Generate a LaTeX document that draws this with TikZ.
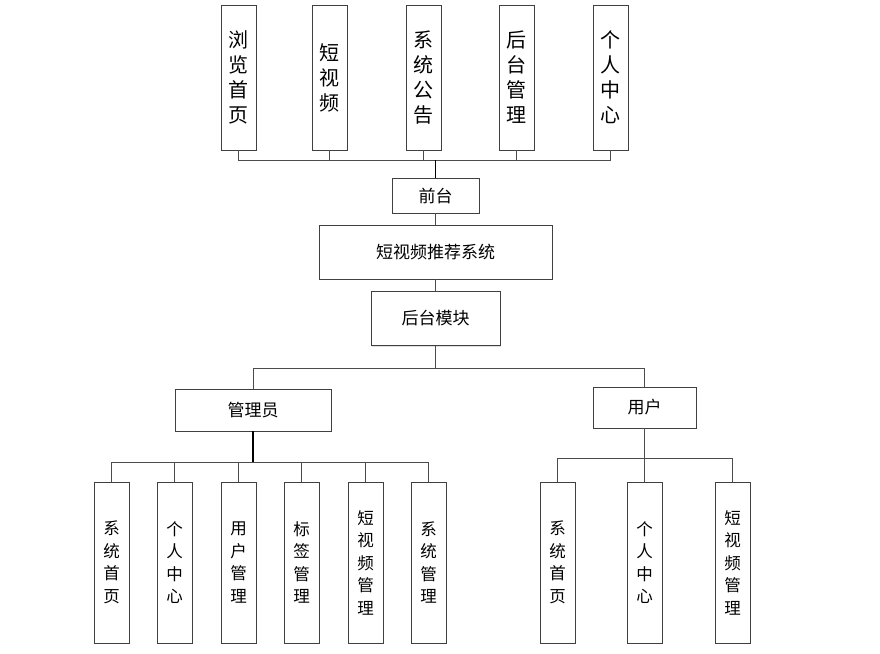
\documentclass[tikz,border=0pt]{standalone}
\usepackage{fontspec}
\setmainfont{Noto Sans CJK SC}
\usetikzlibrary{shadows}
\begin{document}
\begin{tikzpicture}[x = 1pt, y = -1pt,
    box/.style = {draw = black!75, line width = .8pt, fill = white,
                  inner sep = 0pt, align = center,
                  drop shadow = {shadow xshift = 1.2pt, shadow yshift = -1.2pt, fill = black!25}},
    tall/.style = {box, minimum width = 35pt, minimum height = 145pt,
                   font = \fontsize{20}{25}\selectfont},
    low/.style = {box, minimum width = 35pt, minimum height = 161pt,
                  font = \fontsize{16.5}{22.5}\selectfont},
    wide/.style = {box, font = \fontsize{17}{20}\selectfont},
    link/.style = {draw = black!70, line width = .8pt}]
      \useasboundingbox (0,0) rectangle (880,653);
      % top row
      \node [tall] (tA) at (238.5,77.5) {浏\\览\\首\\页};
      \node [tall] (tB) at (329.5,77.5) {短\\视\\频};
      \node [tall] (tC) at (423.5,77.5) {系\\统\\公\\告};
      \node [tall] (tD) at (516.5,77.5) {后\\台\\管\\理};
      \node [tall] (tE) at (610.5,77.5) {个\\人\\中\\心};
      % middle column
      \node [wide, minimum width = 87pt, minimum height = 35pt]
        (qt) at (435.5,195.5) {前台};
      \node [wide, minimum width = 233pt, minimum height = 54pt]
        (sys) at (435.5,252) {短视频推荐系统};
      \node [wide, minimum width = 129pt, minimum height = 54pt]
        (ht) at (435.5,318.5) {后台模块};
      \node [wide, minimum width = 156pt, minimum height = 42pt]
        (gly) at (253,410) {管理员};
      \node [wide, minimum width = 103pt, minimum height = 41pt]
        (yh) at (644.5,407.5) {用户};
      % bottom row
      \node [low] (aA) at (111.5,562.5) {系\\统\\首\\页};
      \node [low] (aB) at (174.5,562.5) {个\\人\\中\\心};
      \node [low] (aC) at (238.5,562.5) {用\\户\\管\\理};
      \node [low] (aD) at (301.5,562.5) {标\\签\\管\\理};
      \node [low] (aE) at (365.5,562.5) {短\\视\\频\\管\\理};
      \node [low] (aF) at (428.5,562.5) {系\\统\\管\\理};
      \node [low] (uA) at (557.5,562.5) {系\\统\\首\\页};
      \node [low] (uB) at (644.5,562.5) {个\\人\\中\\心};
      \node [low] (uC) at (732.5,562.5) {短\\视\\频\\管\\理};
      % buses
      \coordinate (busT) at (435.5,160);
      \coordinate (busM) at (435.5,368);
      \coordinate (busA) at (253,462);
      \coordinate (busU) at (644.5,458);
      \foreach \n in {tA,tB,tC,tD,tE}
        \draw [link] (\n.south) |- (busT);
      \draw [link, draw = black, line width = 1.2pt] (busT) -- (qt.north);
      \draw [link] (qt.south) -- (sys.north);
      \draw [link] (sys.south) -- (ht.north);
      \draw [link] (ht.south) -- (busM);
      \draw [link] (gly.north) |- (busM);
      \draw [link] (yh.north) |- (busM);
      \draw [link, draw = black, line width = 1.2pt] (gly.south) -- (busA);
      \foreach \n in {aA,aB,aC,aD,aE,aF}
        \draw [link] (\n.north) |- (busA);
      \draw [link] (yh.south) -- (busU);
      \foreach \n in {uA,uB,uC}
        \draw [link] (\n.north) |- (busU);
    \end{tikzpicture}
\end{document}
